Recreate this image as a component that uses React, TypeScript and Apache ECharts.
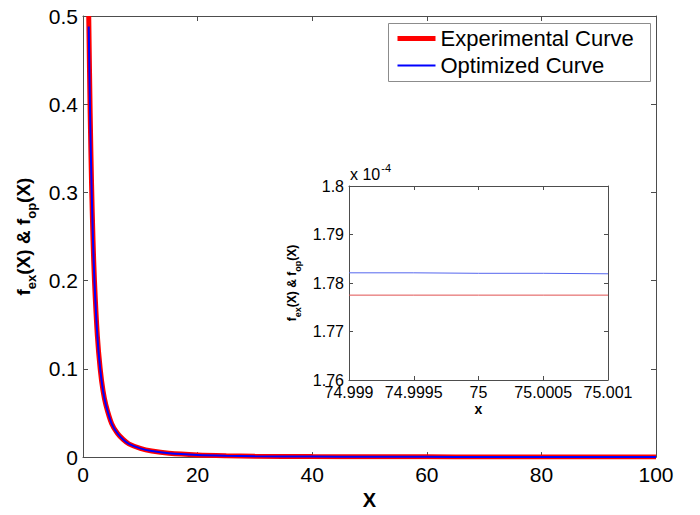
import React, { useEffect, useRef } from "react";
import * as echarts from "echarts";

const mainX = [1, 1.25, 1.5, 1.75, 2, 2.5, 3, 3.5, 4, 5, 6, 7, 8, 10, 12, 15, 20, 25, 30, 40, 50, 60, 70, 80, 90, 100];
const expY = [0.5, 0.39, 0.308, 0.246, 0.2, 0.138, 0.1, 0.075, 0.059, 0.038, 0.027, 0.02, 0.015, 0.0099, 0.0069, 0.0044, 0.0025, 0.0016, 0.0011, 0.0006, 0.0004, 0.00028, 0.0002, 0.00016, 0.00012, 0.0001];
const optY = [0.488, 0.384, 0.305, 0.245, 0.199, 0.138, 0.1, 0.075, 0.059, 0.038, 0.027, 0.02, 0.015, 0.0099, 0.0069, 0.0044, 0.0025, 0.0016, 0.0011, 0.0006, 0.0004, 0.00028, 0.0002, 0.00016, 0.00012, 0.0001];

const insetX = [74.999, 74.9995, 75, 75.0005, 75.001];
// inset values in units of 1e-4
const insetExp = [1.7775, 1.7775, 1.7775, 1.7775, 1.7775];
const insetOpt = [1.7821, 1.7821, 1.782, 1.782, 1.7819];

const seriesNames = ["Experimental Curve", "Optimized Curve"];

const FONT = "Liberation Sans, Arial, Helvetica, sans-serif";
const AX = "#4d4d4d";

function pairs(xs: number[], ys: number[]) {
  return xs.map((x, i) => [x, ys[i]]);
}

function boxAxis(gridIndex: number, position: string, opts: any) {
  return {
    type: "value",
    gridIndex,
    position,
    ...opts,
    axisLine: { show: true, onZero: false, lineStyle: { color: AX, width: 1 } },
    splitLine: { show: false },
  };
}

export default function App() {
  const ref = useRef<HTMLDivElement>(null);
  useEffect(() => {
    if (!ref.current) return;
    const chart = echarts.init(ref.current, null, { renderer: "svg" });
    const mainTick = { show: true, inside: true, length: 5, lineStyle: { color: AX } };
    const insetTick = { show: true, inside: true, length: 4, lineStyle: { color: AX } };
    const fmt4 = (v: number) => String(parseFloat(v.toFixed(4)));
    const fmt2 = (v: number) => String(parseFloat(v.toFixed(2)));
    const mainX0 = { min: 0, max: 100, interval: 20 };
    const mainY0 = { min: 0, max: 0.5, interval: 0.1 };
    const inX0 = { min: 74.999, max: 75.001, interval: 0.0005 };
    const inY0 = { min: 1.76, max: 1.8, interval: 0.01 };
    const legendColors = ["#ff0000", "#0000ff"];
    const legendWidths = [5, 2];
    const legendRows = [38, 65];
    const option: any = {
      animation: false,
      backgroundColor: "#ffffff",
      textStyle: { fontFamily: FONT },
      grid: [
        { left: 83, top: 16, width: 573, height: 452, containLabel: false },
        { left: 349, top: 186, width: 259, height: 194, containLabel: false, show: true, backgroundColor: "#ffffff", borderWidth: 0 },
      ],
      xAxis: [
        boxAxis(0, "bottom", {
          ...mainX0,
          name: "X",
          nameLocation: "middle",
          nameGap: 30,
          nameTextStyle: { fontSize: 20, fontWeight: "bold", color: "#000", fontFamily: FONT },
          axisTick: mainTick,
          axisLabel: { fontSize: 21, color: "#000", margin: 7, fontFamily: FONT },
        }),
        boxAxis(0, "top", { ...mainX0, axisTick: mainTick, axisLabel: { show: false } }),
        boxAxis(1, "bottom", {
          ...inX0,
          name: "x",
          nameLocation: "middle",
          nameGap: 22,
          nameTextStyle: { fontSize: 14, fontWeight: "bold", color: "#000", fontFamily: FONT },
          axisTick: insetTick,
          axisLabel: { fontSize: 16, color: "#000", margin: 4, formatter: fmt4, fontFamily: FONT, showMinLabel: true, showMaxLabel: true },
        }),
        boxAxis(1, "top", { ...inX0, axisTick: insetTick, axisLabel: { show: false } }),
      ],
      yAxis: [
        boxAxis(0, "left", {
          ...mainY0,
          name: "{b|f}{s|ex}{b|(X) & f}{s|op}{b|(X)}",
          nameLocation: "middle",
          nameRotate: 90,
          nameGap: 45,
          nameTextStyle: {
            rich: {
              b: { fontSize: 19, fontWeight: "bold", color: "#000", fontFamily: FONT, lineHeight: 20, verticalAlign: "top" },
              s: { fontSize: 13, fontWeight: "bold", color: "#000", fontFamily: FONT, lineHeight: 13, padding: [11, 0, 0, 0], verticalAlign: "top" },
            },
          },
          axisTick: mainTick,
          axisLabel: { fontSize: 21, color: "#000", margin: 5, fontFamily: FONT },
        }),
        boxAxis(0, "right", { ...mainY0, axisTick: mainTick, axisLabel: { show: false } }),
        boxAxis(1, "left", {
          ...inY0,
          name: "{b|f}{s|ex}{b|(X) & f}{s|op}{b|(X)}",
          nameLocation: "middle",
          nameRotate: 90,
          nameGap: 50,
          nameTextStyle: {
            rich: {
              b: { fontSize: 12, fontWeight: "bold", color: "#000", fontFamily: FONT, lineHeight: 13, verticalAlign: "top" },
              s: { fontSize: 9, fontWeight: "bold", color: "#000", fontFamily: FONT, lineHeight: 9, padding: [7, 0, 0, 0], verticalAlign: "top" },
            },
          },
          axisTick: insetTick,
          axisLabel: { fontSize: 16, color: "#000", margin: 5, formatter: fmt2, fontFamily: FONT },
        }),
        boxAxis(1, "right", { ...inY0, axisTick: insetTick, axisLabel: { show: false } }),
      ],
      graphic: [
        {
          type: "text",
          left: 350,
          top: 162,
          style: {
            text: "{a|x 10}{b|-4}",
            rich: {
              a: { fontSize: 16, fill: "#000", fontFamily: FONT, lineHeight: 20, verticalAlign: "bottom" },
              b: { fontSize: 11, fill: "#000", fontFamily: FONT, lineHeight: 11, padding: [0, 0, 9, 1], verticalAlign: "top" },
            },
          },
        },
        {
          type: "group",
          left: 388,
          top: 23,
          z: 100,
          children: [
            {
              type: "rect",
              shape: { x: 0, y: 0, width: 262, height: 58 },
              style: { fill: "#ffffff", stroke: "#8c8c8c", lineWidth: 1 },
            },
            ...seriesNames.flatMap((name, i) => [
              {
                type: "line",
                shape: { x1: 9, y1: legendRows[i] - 23, x2: 47, y2: legendRows[i] - 23 },
                style: { stroke: legendColors[i], lineWidth: legendWidths[i] },
              },
              {
                type: "text",
                x: 52,
                y: legendRows[i] - 23,
                style: { text: name, fontSize: 22, fill: "#000", fontFamily: FONT, verticalAlign: "middle", align: "left" },
              },
            ]),
          ],
        },
      ],
      series: [
        {
          name: seriesNames[0],
          type: "line",
          xAxisIndex: 0,
          yAxisIndex: 0,
          data: pairs(mainX, expY),
          symbol: "none",
          smooth: 0.3,
          lineStyle: { color: "#ff0000", width: 5 },
          clip: true,
          z: 2,
        },
        {
          name: seriesNames[1],
          type: "line",
          xAxisIndex: 0,
          yAxisIndex: 0,
          data: pairs(mainX, optY),
          symbol: "none",
          smooth: 0.3,
          lineStyle: { color: "#0000ff", width: 2 },
          clip: true,
          z: 3,
        },
        {
          name: "inset-exp",
          type: "line",
          xAxisIndex: 2,
          yAxisIndex: 2,
          data: pairs(insetX, insetExp),
          symbol: "none",
          lineStyle: { color: "#e05050", width: 1 },
          z: 4,
        },
        {
          name: "inset-opt",
          type: "line",
          xAxisIndex: 2,
          yAxisIndex: 2,
          data: pairs(insetX, insetOpt),
          symbol: "none",
          lineStyle: { color: "#5566ee", width: 1 },
          z: 4,
        },
      ],
    };
    chart.setOption(option);
    return () => chart.dispose();
  }, []);
  return (
    <div
      ref={ref}
      style={{ position: "absolute", left: 0, top: 0, width: 700, height: 515, background: "#fff" }}
    />
  );
}
